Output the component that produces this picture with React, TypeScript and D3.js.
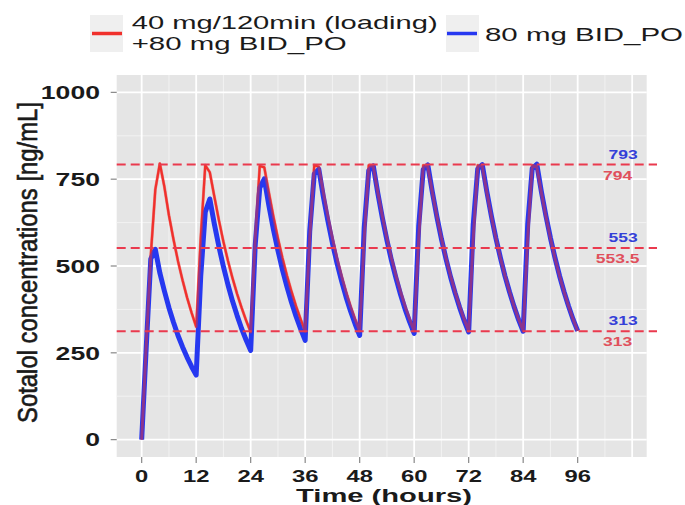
import * as d3 from "d3"

// hourly concentrations, index = hour after first dose (0..96)
const blueConc = [
  0, 265, 520, 548, 480, 428, 380, 338, 300, 267, 237, 210, 186,
  470, 655, 693, 621, 556, 498, 446, 399, 358, 320, 287, 257,
  560, 725, 751, 675, 606, 545, 489, 440, 395, 355, 319, 286,
  600, 765, 779, 700, 630, 566, 509, 458, 411, 370, 333, 300,
  610, 775, 788, 709, 638, 574, 516, 465, 418, 376, 339, 306,
  615, 778, 791, 713, 642, 578, 521, 469, 423, 381, 343, 310,
  618, 780, 792, 714, 644, 580, 523, 471, 425, 383, 345, 312,
  620, 781, 793, 715, 645, 581, 524, 472, 426, 384, 346, 313,
]
const redConc = [
  0, 270, 530, 720, 795, 728, 646, 577, 514, 459, 409, 365, 325,
  580, 790, 770, 700, 632, 570, 515, 465, 420, 380, 343, 310,
  580, 788, 784, 712, 643, 580, 523, 472, 426, 384, 347, 312,
  580, 790, 786, 712, 643, 580, 523, 472, 426, 384, 347, 313,
  580, 790, 786, 712, 643, 580, 523, 472, 426, 384, 347, 313,
  580, 790, 786, 712, 643, 580, 523, 472, 426, 384, 347, 313,
  580, 790, 786, 712, 643, 580, 523, 472, 426, 384, 347, 313,
  580, 790, 786, 712, 643, 580, 523, 472, 426, 384, 347, 313,
]

const xTicks = [0, 12, 24, 36, 48, 60, 72, 84, 96]
const yTicks = [0, 250, 500, 750, 1000]
const refLevels = [792, 552, 312]
const blueRefLabels = ["793", "553", "313"]
const redRefLabels = ["794", "553.5", "313"]
const legendRed = ["40 mg/120min (loading)", "+80 mg BID_PO"]
const legendBlue = "80 mg BID_PO"

const FONT = "'Liberation Sans', Arial, Helvetica, sans-serif"
const SX = 1.4 // the whole picture is stretched sideways
const RED = "#f0302c"
const BLUE = "#2638f0"
const DASH = "#ea3a4e"

const panel = { left: 116.7, right: 646.7, top: 75, bottom: 457 }

export default function App() {
  const x = d3.scaleLinear().domain([-5.5, 111.2]).range([panel.left, panel.right])
  const y = d3.scaleLinear().domain([-50, 1050]).range([panel.bottom, panel.top])

  const line = d3.line<number>()
    .x((_, i) => x(i))
    .y(d => y(d))

  const majorX = d3.range(0, 109, 12)
  const minorX = d3.range(6, 111, 12)
  const minorY = d3.range(125, 1000, 250)

  return (
    <div style={{ position: "absolute", left: 0, top: 0 }}>
      <svg width={685} height={505} style={{ display: "block", background: "#fff" }}>
        {/* panel */}
        <rect x={panel.left} y={panel.top} width={panel.right - panel.left}
          height={panel.bottom - panel.top} fill="#e5e5e5" />
        {minorX.map(t => (
          <line key={"mx" + t} x1={x(t)} x2={x(t)} y1={panel.top} y2={panel.bottom}
            stroke="#f2f2f2" strokeWidth={1} />
        ))}
        {minorY.map(v => (
          <line key={"my" + v} x1={panel.left} x2={panel.right} y1={y(v)} y2={y(v)}
            stroke="#f2f2f2" strokeWidth={1} />
        ))}
        {majorX.map(t => (
          <line key={"gx" + t} x1={x(t)} x2={x(t)} y1={panel.top} y2={panel.bottom}
            stroke="#fff" strokeWidth={1.8} />
        ))}
        {yTicks.map(v => (
          <line key={"gy" + v} x1={panel.left} x2={panel.right} y1={y(v)} y2={y(v)}
            stroke="#fff" strokeWidth={1.8} />
        ))}

        {/* curves: red underneath and again translucent on top so overlaps turn purple */}
        <path d={line(redConc) ?? ""} fill="none" stroke={RED} strokeWidth={2.2}
          strokeLinejoin="round" />
        <path d={line(blueConc) ?? ""} fill="none" stroke={BLUE} strokeWidth={5}
          strokeLinejoin="round" />
        <path d={line(redConc) ?? ""} fill="none" stroke={RED} strokeWidth={3}
          strokeOpacity={0.5} strokeLinejoin="round" />

        {/* reference lines + labels */}
        {refLevels.map((v, i) => (
          <g key={"ref" + v}>
            <line x1={panel.left} x2={657} y1={y(v)} y2={y(v)} stroke={DASH}
              strokeWidth={2} strokeDasharray="9,5" />
            <text transform={`translate(${x(106)},${y(v) - 6}) scale(${SX},1)`}
              textAnchor="middle" fontFamily={FONT} fontWeight="bold" fontSize={12.5}
              fill="#3440d8">{blueRefLabels[i]}</text>
            <text transform={`translate(${x(104.8)},${y(v) + 15}) scale(${SX},1)`}
              textAnchor="middle" fontFamily={FONT} fontWeight="bold" fontSize={12.5}
              fill="#e0505c">{redRefLabels[i]}</text>
          </g>
        ))}

        {/* y axis */}
        {yTicks.map(v => (
          <g key={"yt" + v}>
            <line x1={panel.left - 6} x2={panel.left} y1={y(v)} y2={y(v)} stroke="#888" strokeWidth={1.2} />
            <text transform={`translate(100,${y(v) + 6.8}) scale(${SX},1)`} textAnchor="end"
              fontFamily={FONT} fontWeight="bold" fontSize={19} fill="#1a1a1a">{v}</text>
          </g>
        ))}
        <text transform={`translate(37,262.5) scale(${SX},1) rotate(-90)`} textAnchor="middle"
          fontFamily={FONT} fontSize={20} fill="#1a1a1a" stroke="#1a1a1a" strokeWidth={0.45}
          textLength={321} lengthAdjust="spacingAndGlyphs">Sotalol concentrations [ng/mL]</text>

        {/* x axis */}
        {xTicks.map(t => (
          <g key={"xt" + t}>
            <line x1={x(t)} x2={x(t)} y1={panel.bottom} y2={panel.bottom + 6} stroke="#888" strokeWidth={1.2} />
            <text transform={`translate(${x(t)},482.3) scale(${SX},1)`} textAnchor="middle"
              fontFamily={FONT} fontWeight="bold" fontSize={17} fill="#1a1a1a">{t}</text>
          </g>
        ))}
        <text x={384} y={501.7} textAnchor="middle" fontFamily={FONT} fontWeight="bold"
          fontSize={19} fill="#1a1a1a" textLength={176} lengthAdjust="spacingAndGlyphs">Time (hours)</text>

        {/* legend */}
        <rect x={90} y={15} width={33} height={37} fill="#efefef" />
        <line x1={92} x2={122} y1={33.5} y2={33.5} stroke={RED} strokeWidth={3.5} />
        <text x={131.7} y={29.3} fontFamily={FONT} fontSize={19} fill="#1a1a1a"
          textLength={306} lengthAdjust="spacingAndGlyphs">{legendRed[0]}</text>
        <text x={131.7} y={50} fontFamily={FONT} fontSize={19} fill="#1a1a1a"
          textLength={215} lengthAdjust="spacingAndGlyphs">{legendRed[1]}</text>
        <rect x={446} y={15} width={33} height={37} fill="#efefef" />
        <line x1={447} x2={477} y1={33.5} y2={33.5} stroke={BLUE} strokeWidth={3.5} />
        <text x={485} y={40.7} fontFamily={FONT} fontSize={19} fill="#1a1a1a"
          textLength={198} lengthAdjust="spacingAndGlyphs">{legendBlue}</text>
      </svg>
    </div>
  )
}
